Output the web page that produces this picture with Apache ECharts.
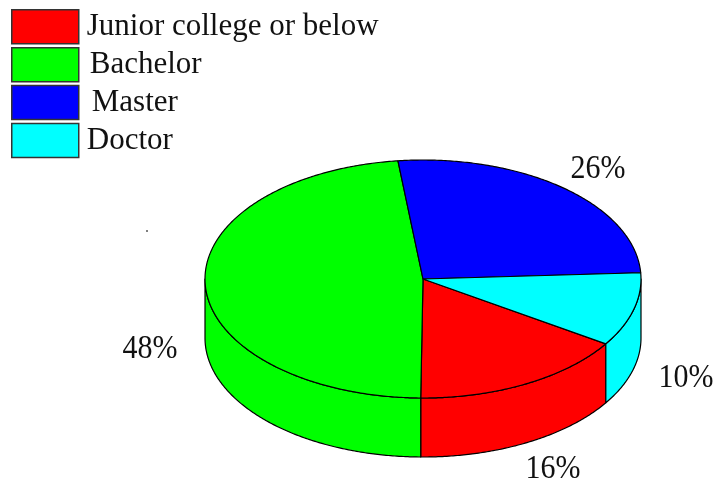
<!DOCTYPE html>
<html>
<head>
<meta charset="utf-8">
<style>html,body{margin:0;padding:0;background:#fff}#c{width:715px;height:483px}</style>
<script src="https://cdn.jsdelivr.net/npm/echarts@6/dist/echarts.min.js"></script>
</head>
<body>
<div id="c"></div>
<script>
const categories = ['Junior college or below', 'Bachelor', 'Master', 'Doctor'];
const shares = [16, 48, 26, 10];

const colors = ['#ff0000', '#00ff00', '#0000ff', '#00ffff'];
const labelAnchors = [[553, 469], [150, 349], [598, 169], [686, 378]];
const legendIndent = [3, 6, 8, 3];
const FONT = '"Liberation Serif", "Times New Roman", serif';
const CX = 423, CY = 279, RX = 218, RY = 119, DEPTH = 59;
const START = 33 * Math.PI / 180;

const total = shares.reduce((a, b) => a + b, 0);
const at = (t, dy) => [CX + RX * Math.cos(t), CY + RY * Math.sin(t) + (dy || 0)];
function arc(a, b, dy) {
  const n = Math.max(2, Math.ceil(Math.abs(b - a) / 0.01));
  const pts = [];
  for (let i = 0; i <= n; i++) pts.push(at(a + (b - a) * i / n, dy));
  return pts;
}
const stroke = { stroke: '#000', lineWidth: 1.2, lineJoin: 'round' };

function renderSlice(params, api) {
  const i = params.seriesIndex;
  const before = shares.slice(0, i).reduce((a, b) => a + b, 0);
  const a0 = START + before / total * 2 * Math.PI;
  const a1 = a0 + api.value(0) / total * 2 * Math.PI;
  const children = [];
  [[0, Math.PI], [2 * Math.PI, 3 * Math.PI]].forEach(([lo, hi]) => {
    const w0 = Math.max(a0, lo), w1 = Math.min(a1, hi);
    if (w1 > w0) {
      children.push({
        type: 'polygon',
        shape: { points: arc(w0, w1, 0).concat(arc(w1, w0, DEPTH)) },
        style: Object.assign({ fill: colors[i] }, stroke)
      });
    }
  });
  children.push({
    type: 'polygon',
    shape: { points: [[CX, CY]].concat(arc(a0, a1, 0)) },
    style: Object.assign({ fill: colors[i] }, stroke)
  });
  children.push({
    type: 'text',
    x: labelAnchors[i][0], y: labelAnchors[i][1], scaleY: 1.12,
    style: {
      x: 0, y: 0,
      text: Math.round(api.value(0) / total * 100) + '%',
      font: '30px ' + FONT, fill: '#111',
      align: 'center', verticalAlign: 'middle'
    }
  });
  return { type: 'group', children };
}

const chart = echarts.init(document.getElementById('c'), null, { renderer: 'canvas' });
chart.setOption({
  animation: false,
  backgroundColor: '#ffffff',
  legend: {
    orient: 'vertical', left: 11, top: 9,
    itemWidth: 67, itemHeight: 34, itemGap: 2.4, padding: 0,
    selectedMode: false,
    data: categories.map((name, i) => ({
      name,
      icon: 'rect',
      itemStyle: { color: colors[i], borderColor: '#333', borderWidth: 1.5 },
      textStyle: { padding: [0, 0, 0, legendIndent[i]], fontFamily: FONT, fontSize: 31, lineHeight: 31, color: '#111' }
    }))
  },
  graphic: [{
    type: 'circle', shape: { cx: 147, cy: 231, r: 1 }, style: { fill: '#555' }
  }],
  series: categories.map((name, i) => ({
    type: 'custom',
    name,
    coordinateSystem: 'none',
    renderItem: renderSlice,
    itemStyle: { color: colors[i] },
    data: [shares[i]]
  }))
});
</script>
</body>
</html>
